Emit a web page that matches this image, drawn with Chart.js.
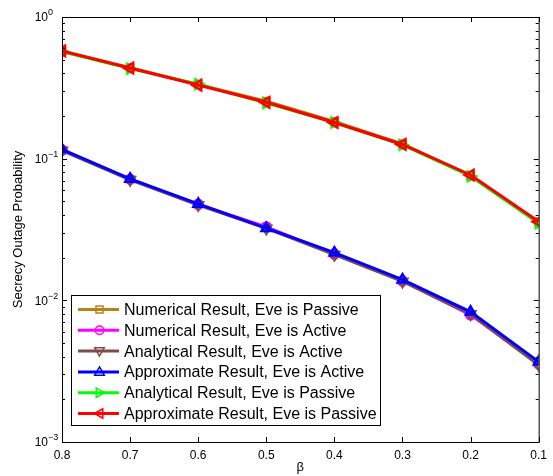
<!DOCTYPE html>
<html>
<head>
<meta charset="utf-8">
<script src="https://cdn.jsdelivr.net/npm/chart.js@4.4.0/dist/chart.umd.min.js"></script>
<style>
  html, body { margin: 0; padding: 0; background: #fff; }
  #wrap { width: 553px; height: 476px; }
</style>
</head>
<body>
<div id="wrap"><canvas id="chart" width="553" height="476"></canvas></div>
<script>
// beta values (x axis, drawn reversed)
const betaValues = [0.8, 0.7, 0.6, 0.5, 0.4, 0.3, 0.2, 0.1];
const xTicks = [0.8, 0.7, 0.6, 0.5, 0.4, 0.3, 0.2, 0.1];
const yDecades = [1, 0.1, 0.01, 0.001];
const yDecadeLabels = ['0', '-1', '-2', '-3'];

// series values
const numericalPassive = [0.574, 0.438, 0.334, 0.255, 0.183, 0.127, 0.0758, 0.0357];
const numericalActive = [0.115, 0.0716, 0.0476, 0.0330, 0.0212, 0.0137, 0.0079, 0.00355];
const analyticalActive = [0.114, 0.0710, 0.0471, 0.0322, 0.0210, 0.0136, 0.0080, 0.00350];
const approxActive = [0.1165, 0.0720, 0.0479, 0.0323, 0.0217, 0.0140, 0.0083, 0.00368];
const analyticalPassive = [0.570, 0.432, 0.336, 0.247, 0.180, 0.125, 0.0752, 0.0350];
const approxPassive = [0.576, 0.436, 0.331, 0.250, 0.180, 0.126, 0.0767, 0.0359];

const seriesNames = [
  'Numerical Result, Eve is Passive',
  'Numerical Result, Eve is Active',
  'Analytical Result, Eve is Active',
  'Approximate Result, Eve is Active',
  'Analytical Result, Eve is Passive',
  'Approximate Result, Eve is Passive'
];
const seriesData = [numericalPassive, numericalActive, analyticalActive, approxActive, analyticalPassive, approxPassive];
const seriesColors = ['#B8821A', '#FF00FF', '#7F4C4C', '#0000FF', '#00FF00', '#FF0000'];
const seriesMarkers = ['rect', 'circle', 'triangle', 'triangle', 'triangle', 'triangle'];
const seriesRotation = [0, 0, 180, 0, 90, -90];
const seriesRadius = [4.5, 4.5, 5.5, 5.5, 5.5, 6];

const datasets = seriesNames.map((name, i) => ({
  label: name,
  data: betaValues.map((b, j) => ({ x: b, y: seriesData[i][j] })),
  borderColor: seriesColors[i],
  backgroundColor: 'rgba(255,255,255,0)',
  pointBorderColor: seriesColors[i],
  pointBackgroundColor: 'rgba(255,255,255,0)',
  pointStyle: seriesMarkers[i],
  rotation: seriesRotation[i],
  pointRadius: seriesRadius[i],
  pointBorderWidth: 2.5,
  borderWidth: 3,
  tension: 0,
  order: 6 - i // later series on top, like matlab
}));

// marker for the legend
function drawMarker(ctx, style, rot, x, y, r) {
  ctx.save();
  ctx.translate(x, y);
  ctx.rotate(rot * Math.PI / 180);
  ctx.beginPath();
  if (style === 'rect') {
    ctx.rect(-r * 0.7, -r * 0.7, r * 1.4, r * 1.4);
  } else if (style === 'circle') {
    ctx.arc(0, 0, r * 0.85, 0, Math.PI * 2);
  } else {
    ctx.moveTo(0, -r);
    ctx.lineTo(r * 0.95, r * 0.65);
    ctx.lineTo(-r * 0.95, r * 0.65);
    ctx.closePath();
  }
  ctx.stroke();
  ctx.restore();
}

const matlabAxes = {
  id: 'matlabAxes',
  afterDatasetsDraw(chart) {
    const ctx = chart.ctx;
    const a = chart.chartArea;
    const xs = chart.scales.x, ys = chart.scales.y;
    ctx.save();
    ctx.strokeStyle = '#000';
    ctx.lineWidth = 1;
    ctx.strokeRect(a.left + 0.5, a.top + 0.5, a.right - a.left, a.bottom - a.top);

    ctx.beginPath();
    // x ticks, inside, top and bottom
    xTicks.forEach(v => {
      const px = Math.round(xs.getPixelForValue(v)) + 0.5;
      ctx.moveTo(px, a.bottom); ctx.lineTo(px, a.bottom - 5);
      ctx.moveTo(px, a.top); ctx.lineTo(px, a.top + 5);
    });
    // y major + minor log ticks, left and right
    yDecades.forEach((d, k) => {
      for (let m = 1; m <= 9; m++) {
        const v = d * m;
        if (m > 1 && k === 0) continue;
        const py = Math.round(ys.getPixelForValue(v)) + 0.5;
        const len = m === 1 ? 5 : 3;
        ctx.moveTo(a.left, py); ctx.lineTo(a.left + len, py);
        ctx.moveTo(a.right, py); ctx.lineTo(a.right - len, py);
      }
    });
    ctx.stroke();

    // y tick labels as 10^n
    ctx.fillStyle = '#000';
    ctx.textBaseline = 'middle';
    yDecades.forEach((d, k) => {
      const py = ys.getPixelForValue(d);
      ctx.font = '12px "Liberation Sans", Arial, sans-serif';
      ctx.textAlign = 'right';
      ctx.fillText('10', a.left - 14, py + 1);
      ctx.font = '9px "Liberation Sans", Arial, sans-serif';
      ctx.textAlign = 'left';
      const sup = yDecadeLabels[k].replace('-', '\u2212');
      ctx.fillText(sup, a.left - 14, py - 4);
    });

    // legend box
    const lx = 71, ly = 295, lw = 309, lh = 130;
    ctx.fillStyle = '#fff';
    ctx.fillRect(lx, ly, lw, lh);
    ctx.strokeRect(lx + 0.5, ly + 0.5, lw, lh);
    ctx.font = '16px "Liberation Sans", Arial, sans-serif';
    ctx.textAlign = 'left';
    seriesNames.forEach((name, i) => {
      const y = ly + 14.5 + i * 20.8;
      ctx.strokeStyle = seriesColors[i];
      ctx.lineWidth = 3;
      ctx.beginPath();
      ctx.moveTo(78, y); ctx.lineTo(119, y);
      ctx.stroke();
      ctx.lineWidth = 1.5;
      drawMarker(ctx, seriesMarkers[i], seriesRotation[i], 99.5, y, 5);
      ctx.fillStyle = '#000';
      ctx.fillText(name, 124, y + 1);
    });
    ctx.restore();
  }
};

new Chart(document.getElementById('chart').getContext('2d'), {
  type: 'line',
  data: { datasets: datasets },
  options: {
    responsive: false,
    animation: false,
    layout: { padding: { top: 17, right: 7, left: 0, bottom: 0 } },
    plugins: { legend: { display: false }, tooltip: { enabled: false } },
    scales: {
      x: {
        type: 'linear',
        reverse: true,
        min: 0.1,
        max: 0.8,
        grid: { display: false, drawTicks: false },
        border: { display: false },
        afterBuildTicks: scale => { scale.ticks = xTicks.map(v => ({ value: v })); },
        afterFit: scale => { scale.height = 34; },
        ticks: {
          color: '#000',
          padding: 6,
          maxRotation: 0,
          font: { family: '"Liberation Sans", Arial, sans-serif', size: 12 },
          callback: v => Number(v).toFixed(1)
        },
        title: {
          display: true,
          text: 'β',
          color: '#000',
          padding: { top: 0, bottom: 1 },
          font: { family: '"Liberation Sans", Arial, sans-serif', size: 13 }
        }
      },
      y: {
        type: 'logarithmic',
        min: 0.001,
        max: 1,
        grid: { display: false, drawTicks: false },
        border: { display: false },
        ticks: { display: false },
        afterFit: scale => { scale.width = 62; },
        title: {
          display: true,
          text: 'Secrecy Outage Probability',
          color: '#000',
          padding: { top: 11, bottom: 0 },
          font: { family: '"Liberation Sans", Arial, sans-serif', size: 13 }
        }
      }
    }
  },
  plugins: [matlabAxes]
});
</script>
</body>
</html>
